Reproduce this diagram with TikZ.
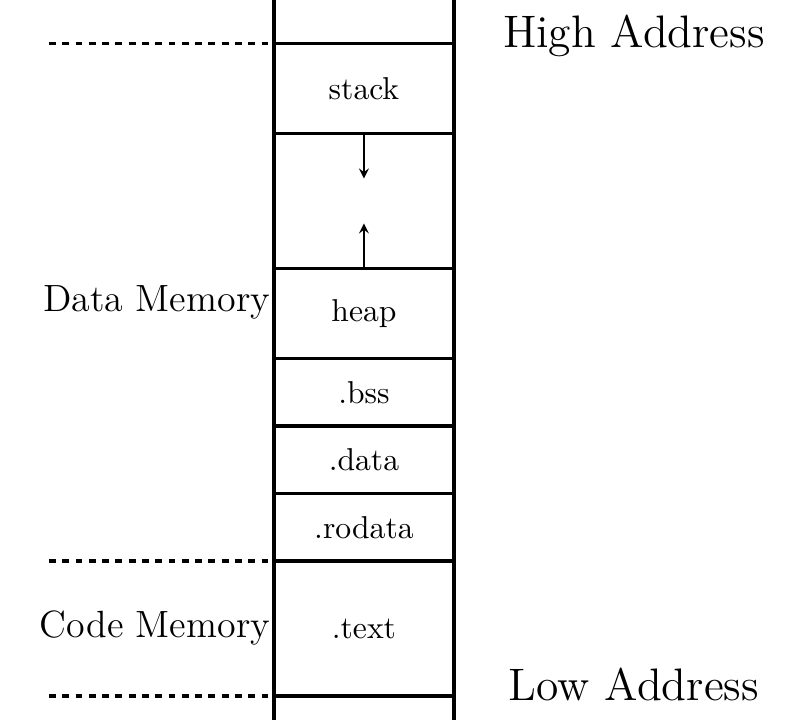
\documentclass[tikz,border=0pt]{standalone}
\usetikzlibrary{positioning}
\tikzset{
  seg/.style={draw, line width=1pt, minimum width=2cm, outer sep=0pt, inner sep=0pt},
  guide/.style={line width=1pt, dash pattern=on 2.2pt off 2pt},
  wall/.style={line width=1pt},
  growth/.style={-stealth},
  region/.style={font=\large, anchor=east, inner sep=1pt},
  addr/.style={font=\Large, anchor=base},
}
\begin{document}
\begin{tikzpicture}
\useasboundingbox (-3.044,-0.267) rectangle (5.956,7.733);
% segments
\node[seg, minimum height=1cm, anchor=north west] (stack) at (0,7.25) {stack};
\node[seg, minimum height=1.5cm, below=0pt of stack] (free) {};
\node[seg, minimum height=1cm, below=0pt of free] (heap) {heap};
\node[seg, minimum height=0.75cm, below=0pt of heap] (bss) {.bss};
\node[seg, minimum height=0.75cm, below=0pt of bss] (data) {.data};
\node[seg, minimum height=0.75cm, below=0pt of data] (rodata) {.rodata};
\node[seg, minimum height=1.5cm, below=0pt of rodata] (text) {.text};
\draw[wall] (stack.north west) -- +(0,1);
\draw[wall] (stack.north east) -- +(0,1);
\draw[wall] (text.south west) -- +(0,-0.5);
\draw[wall] (text.south east) -- +(0,-0.5);
\draw[guide] (stack.north west) ++(-2.5,0) -- (stack.north west);
\draw[guide] (rodata.south west) ++(-2.5,0) -- (rodata.south west);
\draw[guide] (text.south west) ++(-2.5,0) -- (text.south west);
\draw[growth] (free.north) -- +(0,-0.5);
\draw[growth] (free.south) -- +(0,0.5);
% labels
\node[region] (datamem) at (0,4.375) {Data Memory};
\node[region] (codemem) at (0,0.75) {Code Memory};
\node[addr] (high) at (4,7.2) {High Address};
\node[addr] (low) at (4,-0.05) {Low Address};
\end{tikzpicture}
\end{document}
